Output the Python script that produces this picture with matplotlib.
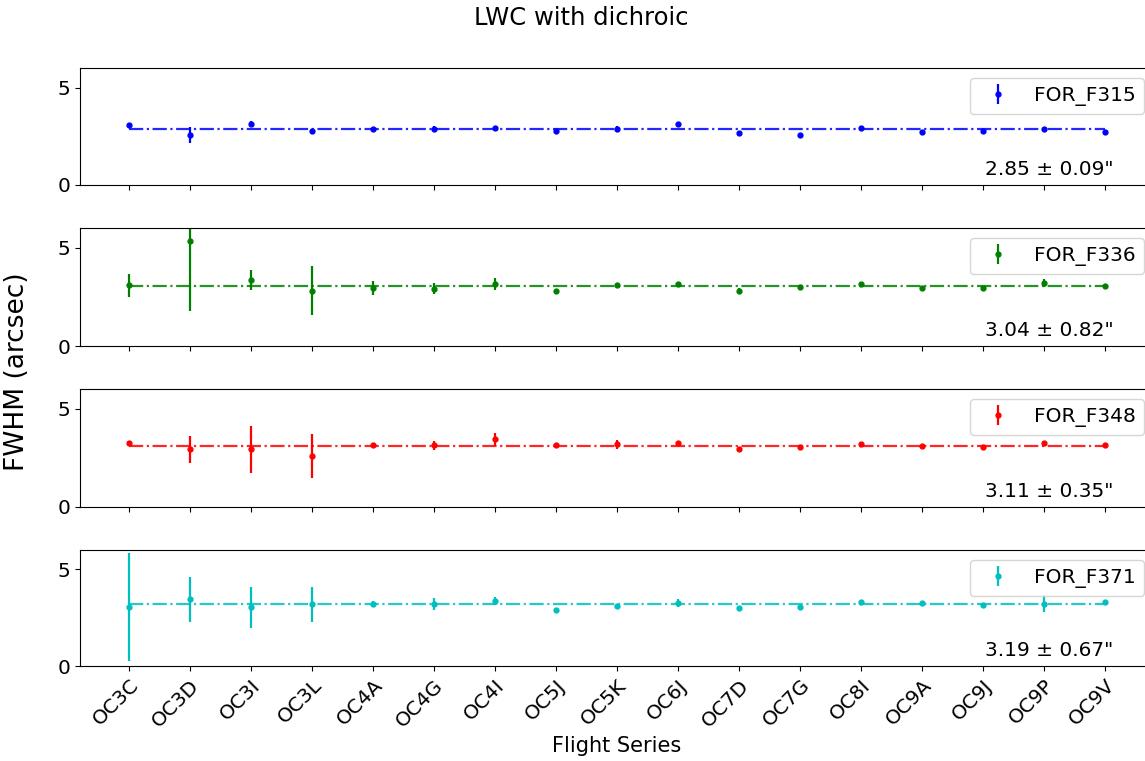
import matplotlib
matplotlib.use("Agg")
import matplotlib.pyplot as plt
import numpy as np

flights = ["OC3C", "OC3D", "OC3I", "OC3L", "OC4A", "OC4G", "OC4I", "OC5J", "OC5K",
           "OC6J", "OC7D", "OC7G", "OC8I", "OC9A", "OC9J", "OC9P", "OC9V"]

filters = ["FOR_F315", "FOR_F336", "FOR_F348", "FOR_F371"]
colors = ["b", "g", "r", "c"]

fwhm_f315 = [3.06, 2.55, 3.15, 2.77, 2.86, 2.86, 2.94, 2.77, 2.86,
             3.15, 2.67, 2.55, 2.94, 2.72, 2.77, 2.86, 2.72]
err_f315 = [0.10, 0.42, 0.12, 0.05, 0.07, 0.15, 0.05, 0.04, 0.15,
            0.05, 0.05, 0.04, 0.05, 0.06, 0.04, 0.05, 0.04]

fwhm_f336 = [3.08, 5.32, 3.37, 2.81, 2.94, 2.92, 3.16, 2.81, 3.08,
             3.16, 2.81, 2.99, 3.15, 2.94, 2.94, 3.20, 3.06]
err_f336 = [0.60, 3.52, 0.50, 1.25, 0.34, 0.30, 0.30, 0.05, 0.12,
            0.08, 0.12, 0.06, 0.06, 0.10, 0.10, 0.22, 0.06]

fwhm_f348 = [3.23, 2.94, 2.94, 2.59, 3.15, 3.13, 3.44, 3.13, 3.18,
             3.23, 2.93, 3.06, 3.21, 3.11, 3.06, 3.23, 3.15]
err_f348 = [0.12, 0.68, 1.20, 1.12, 0.10, 0.25, 0.34, 0.05, 0.25,
            0.08, 0.08, 0.06, 0.05, 0.05, 0.05, 0.08, 0.05]

fwhm_f371 = [3.06, 3.45, 3.03, 3.20, 3.20, 3.20, 3.35, 2.89, 3.08,
             3.27, 2.98, 3.06, 3.32, 3.27, 3.15, 3.23, 3.32]
err_f371 = [2.78, 1.17, 1.04, 0.90, 0.15, 0.30, 0.20, 0.05, 0.12,
            0.20, 0.06, 0.08, 0.06, 0.05, 0.05, 0.45, 0.06]

means = [2.85, 3.04, 3.11, 3.19]
stds = [0.09, 0.82, 0.35, 0.67]

values = [fwhm_f315, fwhm_f336, fwhm_f348, fwhm_f371]
errors = [err_f315, err_f336, err_f348, err_f371]

W, H = 1145, 761
fig = plt.figure(figsize=(W / 100, H / 100), dpi=100)

panel_px = [(68, 185), (228, 346), (389, 507), (550, 666)]
left_px, right_px = 80, 1154

x = np.arange(len(flights))
axes = []
for i, (top, bot) in enumerate(panel_px):
    ax = fig.add_axes([left_px / W, 1 - bot / H, (right_px - left_px) / W, (bot - top) / H],
                      sharex=axes[0] if axes else None)
    axes.append(ax)
    ax.errorbar(x, values[i], yerr=errors[i], fmt=".", color=colors[i],
                markersize=7, elinewidth=1.6, label=filters[i])
    ax.plot(x, [means[i]] * len(x), linestyle="-.", color=colors[i],
            linewidth=1.6, alpha=0.85)
    ax.set_ylim(0, 6)
    ax.set_yticks([0, 5])
    ax.tick_params(axis="both", labelsize=14.5)
    ax.legend(loc="upper right", fontsize=14.5, handlelength=2.0)
    ax.text(0.962, 0.05, f"{means[i]:.2f} \u00b1 {stds[i]:.2f}\"",
            transform=ax.transAxes, ha="right", va="bottom", fontsize=14.5)
    if i < 3:
        ax.tick_params(axis="x", labelbottom=False)

axes[-1].set_xticks(x)
axes[-1].set_xticklabels(flights, rotation=45, ha="right", rotation_mode="anchor")
axes[-1].set_xlabel("Flight Series", fontsize=15)

fig.text(17 / W, 1 - 372 / H, "FWHM (arcsec)", rotation=90, va="center", ha="center",
         fontsize=19)
fig.suptitle("LWC with dichroic", x=581 / W, y=1 - 18 / H, va="center", fontsize=17.5)

fig.savefig("out.png", dpi=100)
